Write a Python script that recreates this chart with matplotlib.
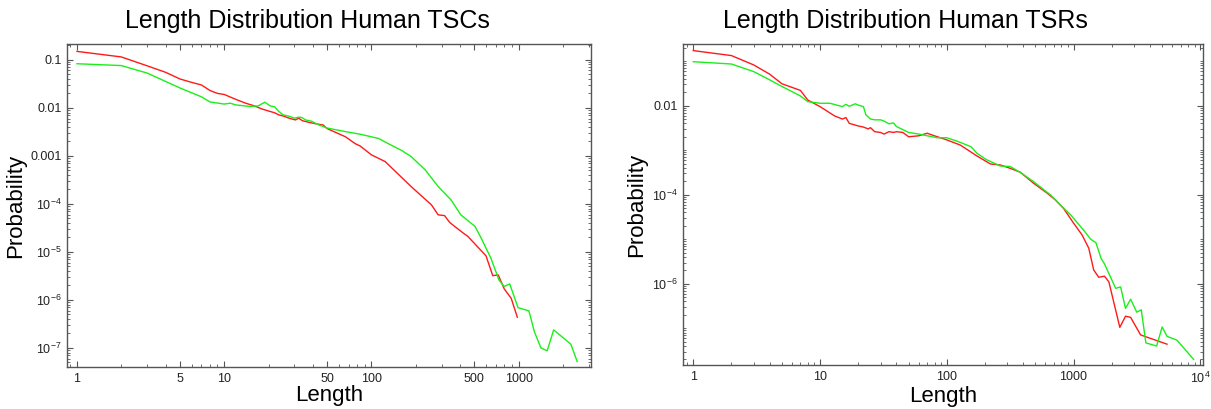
import numpy as np
import matplotlib
matplotlib.use("Agg")
import matplotlib.pyplot as plt
from matplotlib.ticker import FixedLocator, FixedFormatter, LogLocator, NullFormatter

plt.rcParams['font.family'] = ['Liberation Sans', 'DejaVu Sans']
plt.rcParams['mathtext.fontset'] = 'custom'
plt.rcParams['mathtext.rm'] = 'Liberation Sans'
plt.rcParams['mathtext.it'] = 'Liberation Sans'

# Human TSCs (left panel)
tsc_red_x = [1, 2, 3, 4, 5, 6, 7, 8, 9, 10, 12, 14, 16, 18, 20, 22, 23.6, 25, 28, 30.5, 32, 34,
             37.5, 42.7, 47, 50, 66.6, 77.5, 84, 100, 124, 186, 256, 284, 314, 340, 418, 452,
             600, 667, 727, 798, 890, 980]
tsc_red_y = [0.15, 0.115, 0.075, 0.055, 0.04, 0.034, 0.03, 0.023, 0.02, 0.019, 0.015, 0.0125,
             0.011, 0.0095, 0.0086, 0.0079, 0.0071, 0.0068, 0.006, 0.0056, 0.0061, 0.0054,
             0.005, 0.0046, 0.0044, 0.0037, 0.0025, 0.0018, 0.0016, 0.00105, 7.6e-4, 2.3e-4,
             9.5e-5, 5.9e-5, 5.7e-5, 4.1e-5, 2.5e-5, 2.1e-5, 8.3e-6, 3.2e-6, 3.3e-6, 1.7e-6,
             1.08e-6, 4.35e-7]
tsc_green_x = [1, 2, 3, 5, 7, 8, 10, 11, 12, 15, 17, 18.9, 20.5, 22, 23.5, 25, 27.5, 30, 32,
               33.7, 35.7, 39, 44, 50, 66.6, 85, 112, 130, 160, 186, 232, 284, 348, 405,
               505, 556, 648, 735, 798, 870, 990, 1175, 1277, 1417, 1562, 1730, 2260, 2500]
tsc_green_y = [0.083, 0.076, 0.053, 0.026, 0.017, 0.0133, 0.012, 0.0125, 0.0115, 0.0107,
               0.011, 0.0131, 0.011, 0.0105, 0.0084, 0.0072, 0.0067, 0.0061, 0.0064, 0.0063,
               0.0056, 0.0053, 0.0044, 0.0038, 0.0032, 0.0028, 0.0023, 0.0018, 0.0013,
               0.00097, 5.1e-4, 2.3e-4, 1.2e-4, 5.9e-5, 3.4e-5, 1.95e-5, 7.4e-6, 2.6e-6,
               1.9e-6, 2.15e-6, 6.9e-7, 5.9e-7, 2.2e-7, 1.0e-7, 8.7e-8, 2.37e-7, 1.2e-7, 5.2e-8]

# Human TSRs (right panel)
tsr_red_x = [1, 2, 3, 4, 5, 7, 8, 10, 13, 15, 16, 17, 20, 22, 24, 25, 27, 30, 32, 35, 38, 40,
             45, 50, 60, 70, 80, 100, 128, 173, 221, 265, 317, 380, 485, 620, 720, 835, 1000,
             1167, 1318, 1442, 1580, 1753, 1900, 2317, 2570, 2820, 3380, 5460]
tsr_red_y = [0.172, 0.133, 0.082, 0.051, 0.031, 0.022, 0.0134, 0.0095, 0.0059, 0.005, 0.0054,
             0.004, 0.0035, 0.0033, 0.003, 0.0032, 0.0026, 0.0025, 0.0023, 0.0026, 0.0025,
             0.0026, 0.0025, 0.002, 0.0021, 0.0024, 0.0021, 0.0017, 0.0013, 7.4e-4, 4.9e-4,
             4.65e-4, 3.9e-4, 3.2e-4, 1.8e-4, 1.08e-4, 7.6e-5, 4.9e-5, 2.3e-5, 1.25e-5,
             6.3e-6, 2.04e-6, 1.4e-6, 1.48e-6, 1.1e-6, 1.05e-7, 1.87e-7, 1.76e-7, 7.1e-8, 4.4e-8]
tsr_green_x = [1, 2, 3, 4, 5, 7, 8, 10, 12, 15, 16, 17, 19, 20, 22, 23, 25, 27, 30, 32, 35,
               38, 40, 50, 60, 84, 100, 120, 155, 173, 204, 265, 317, 391, 485, 660, 810,
               950, 1200, 1370, 1500, 1650, 1753, 1900, 2150, 2350, 2570, 2820, 3150, 3420,
               3720, 4520, 5000, 5460, 6550, 8860]
tsr_green_y = [0.097, 0.086, 0.058, 0.038, 0.027, 0.0165, 0.0123, 0.0113, 0.0113, 0.0095,
               0.0107, 0.0097, 0.011, 0.0103, 0.0095, 0.0062, 0.005, 0.0048, 0.0048, 0.0045,
               0.0039, 0.0041, 0.0034, 0.0025, 0.0023, 0.0019, 0.0019, 0.0016, 0.0012,
               8.5e-4, 6.2e-4, 4.4e-4, 4.3e-4, 3.0e-4, 1.95e-4, 9.8e-5, 5.4e-5, 3.5e-5,
               1.6e-5, 9.9e-6, 8.4e-6, 3.7e-6, 2.8e-6, 1.7e-6, 7.9e-7, 8.5e-7, 2.8e-7,
               4.5e-7, 2.3e-7, 2.6e-7, 4.7e-8, 4.0e-8, 1.07e-7, 6.6e-8, 5.4e-8, 2.0e-8]

left_xticks = [1, 5, 10, 50, 100, 500, 1000]
left_xlabels = ['1', '5', '10', '50', '100', '500', '1000']
left_yticks = [1e-7, 1e-6, 1e-5, 1e-4, 1e-3, 1e-2, 1e-1]
left_ylabels = [r'$10^{-7}$', r'$10^{-6}$', r'$10^{-5}$', r'$10^{-4}$', '0.001', '0.01', '0.1']
right_xticks = [1, 10, 100, 1000, 10000]
right_xlabels = ['1', '10', '100', '1000', r'$10^{4}$']
right_yticks = [1e-6, 1e-4, 1e-2]
right_ylabels = [r'$10^{-6}$', r'$10^{-4}$', '0.01']

RED = '#ff1a1a'
GREEN = '#1aef1a'
FRAME = '#555555'

fig = plt.figure(figsize=(12.11, 4.09), dpi=100)
ax1 = fig.add_axes([0.0553, 0.1027, 0.4327, 0.79])
ax2 = fig.add_axes([0.564, 0.1076, 0.4294, 0.785])


def style(ax, xt, xl, yt, yl, ymin_sub):
    ax.set_xscale('log')
    ax.set_yscale('log')
    ax.xaxis.set_major_locator(FixedLocator(xt))
    ax.xaxis.set_major_formatter(FixedFormatter(xl))
    ax.xaxis.set_minor_locator(LogLocator(base=10, subs=np.arange(2, 10), numticks=50))
    ax.xaxis.set_minor_formatter(NullFormatter())
    ax.yaxis.set_major_locator(FixedLocator(yt))
    ax.yaxis.set_major_formatter(FixedFormatter(yl))
    ax.yaxis.set_minor_locator(LogLocator(base=10, subs=ymin_sub, numticks=50))
    ax.yaxis.set_minor_formatter(NullFormatter())
    ax.tick_params(which='both', direction='in', top=True, right=True,
                   color=FRAME, labelsize=9, labelcolor='#222222', pad=4)
    ax.tick_params(which='major', length=4, width=0.8)
    ax.tick_params(which='minor', length=2, width=0.6)
    for s in ax.spines.values():
        s.set_color(FRAME)
        s.set_linewidth(1.0)
    ax.set_xlabel('Length', fontsize=16, labelpad=0)
    ax.set_ylabel('Probability', fontsize=16, labelpad=3)


ax1.plot(tsc_red_x, tsc_red_y, color=RED, lw=1.0)
ax1.plot(tsc_green_x, tsc_green_y, color=GREEN, lw=1.0)
style(ax1, left_xticks, left_xlabels, left_yticks, left_ylabels, np.arange(2, 10))
ax1.set_xlim(0.855, 3100)
ax1.set_ylim(4e-8, 0.215)

ax2.plot(tsr_red_x, tsr_red_y, color=RED, lw=1.0)
ax2.plot(tsr_green_x, tsr_green_y, color=GREEN, lw=1.0)
style(ax2, right_xticks, right_xlabels, right_yticks, right_ylabels, np.arange(1, 10))
ax2.set_xlim(0.83, 10500)
ax2.set_ylim(1.5e-8, 0.243)

fig.text(0.254, 0.948, 'Length Distribution Human TSCs', fontsize=18, ha='center', va='center')
fig.text(0.748, 0.948, 'Length Distribution Human TSRs', fontsize=18, ha='center', va='center')

fig.savefig('out.png', dpi=100)
